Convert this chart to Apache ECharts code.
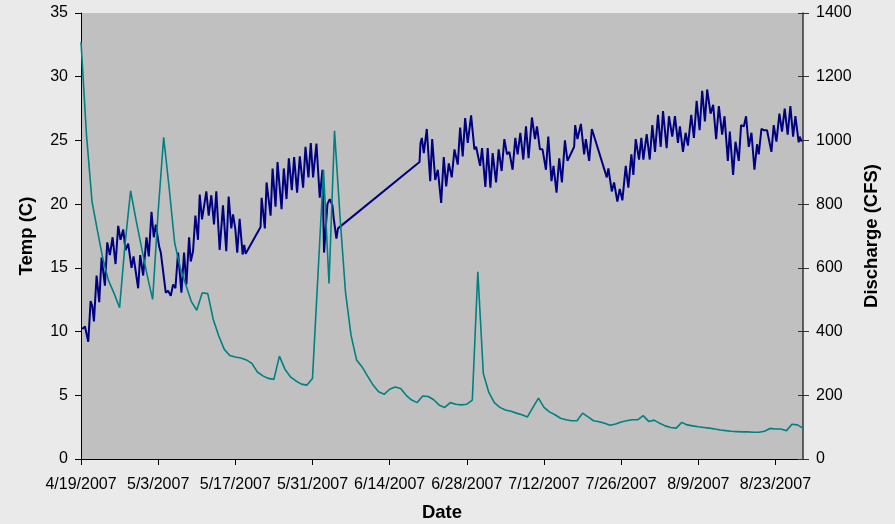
<!DOCTYPE html>
<html>
<head>
<meta charset="utf-8">
<script src="https://cdn.jsdelivr.net/npm/echarts@6/dist/echarts.min.js"></script>
<style>
html,body{margin:0;padding:0;background:#eaeaea;}
#chart{width:895px;height:524px;}
</style>
</head>
<body>
<div id="chart"></div>
<script>
// Dates are days after 4/19/2007
var startDate = Date.UTC(2007, 3, 19);
var xTickDays = [0, 14, 28, 42, 56, 70, 84, 98, 112, 126];

// Water temperature (C) (daily highs and lows)
var tempDay = [0.24,0.72,1.32,1.74,2.05,2.35,2.83,3.31,3.73,4.34,4.76,5.24,5.73,6.27,6.75,7.17,7.66,8.08,8.56,9.17,9.53,10.37,10.74,11.28,11.88,12.30,12.79,13.21,13.57,14.17,14.48,15.38,15.80,16.29,16.71,17.13,17.61,18.22,18.70,19.12,19.61,19.91,20.33,20.75,21.23,21.54,21.96,22.74,23.17,23.65,24.13,24.55,25.16,25.76,26.36,26.79,27.27,27.58,27.99,28.35,28.78,29.33,29.62,29.87,
32.58,32.77,33.36,33.67,34.40,34.76,35.30,35.66,36.39,36.80,37.29,37.71,38.25,38.67,39.21,39.70,40.30,40.73,41.27,41.69,42.11,42.72,43.32,43.81,44.10,44.71,45.13,45.62,45.85,46.34,46.63,
61.42,61.60,61.84,62.20,62.74,63.36,63.72,64.27,64.74,65.35,65.82,66.26,66.73,67.27,67.76,68.36,68.79,69.26,69.70,70.17,70.78,71.38,71.69,71.98,72.41,72.77,73.37,73.79,74.28,74.69,75.31,75.78,76.32,76.81,77.30,77.72,78.31,78.80,79.22,79.71,80.25,80.74,81.21,81.82,82.37,82.73,83.27,83.74,84.36,84.78,85.37,85.73,86.28,86.77,87.26,87.80,88.27,89.48,89.66,90.08,90.70,91.29,91.60,92.20,92.69,95.40,95.69,
96.31,96.72,97.32,97.75,98.23,98.84,99.31,99.86,100.22,100.65,101.25,101.67,102.03,102.64,103.19,103.66,104.15,104.69,105.18,105.60,106.26,106.68,107.28,107.77,108.31,108.67,109.22,109.70,110.12,110.72,111.21,111.70,112.24,112.71,113.20,113.61,114.23,114.70,115.24,115.73,116.33,116.76,117.36,117.72,118.32,118.75,119.35,119.77,120.26,120.67,121.16,121.65,122.19,122.66,122.97,123.46,123.88,124.47,125.27,125.69,126.18,126.72,127.19,127.68,128.22,128.71,129.20,129.62,130.22,130.40,130.76];
var tempC = [10.2,10.4,9.2,12.4,12.0,10.8,14.4,12.3,15.8,13.6,17.0,16.0,17.4,15.3,18.3,17.2,18.0,16.4,16.9,15.0,15.9,13.4,16.0,14.4,17.4,15.9,19.4,17.4,18.4,16.7,16.2,13.05,13.2,12.8,13.7,13.4,16.2,13.05,16.2,13.7,17.4,15.5,16.3,19.1,17.2,20.75,18.8,21.0,19.1,20.7,18.4,21.0,16.4,19.9,16.3,20.6,18.1,19.2,18.1,16.2,18.85,16.05,16.8,16.1,
18.2,20.5,18.1,21.7,19.1,22.8,19.8,23.3,19.6,22.8,20.4,23.6,21.1,23.7,20.9,23.75,21.3,24.5,22.1,24.8,22.1,24.75,20.5,22.7,16.2,20.0,20.4,19.9,18.9,17.3,18.1,
23.3,24.8,25.2,24.0,25.9,21.8,25.1,21.9,22.7,20.1,23.7,21.4,23.2,22.1,24.3,23.1,26.0,23.75,26.75,24.8,26.96,24.3,24.5,23.9,23.0,24.4,21.35,24.4,21.3,24.0,21.7,24.3,22.6,25.1,23.9,24.1,22.7,25.2,23.9,25.6,23.5,26.1,23.6,26.8,25.1,26.1,24.3,24.3,22.7,25.3,21.8,23.0,20.9,23.6,21.7,25.0,23.4,24.5,26.2,25.1,26.3,23.9,25.1,23.4,25.9,22.1,22.8,
21.0,21.7,20.2,21.2,20.3,23.0,21.3,23.9,22.3,25.1,23.5,25.2,23.5,25.5,23.5,26.2,24.1,27.0,24.5,27.3,24.4,26.9,25.3,26.9,24.8,26.1,24.1,25.6,24.6,27.0,25.2,28.1,25.8,28.9,26.5,29.0,27.1,27.8,25.1,27.7,25.45,26.9,23.4,25.7,22.3,24.9,23.4,26.2,26.1,26.9,24.5,25.6,22.7,24.7,23.9,25.9,25.8,25.8,24.1,26.2,24.9,27.1,25.7,27.5,25.45,27.7,25.3,26.9,24.85,25.3,24.9];

// Daily discharge (CFS), one value per day from 4/19/2007
var dischargeCFS = [1309,1017,808,715,626,560,520,475,676,842,
749,663,577,501,777,1010,850,678,601,548,
495,467,522,519,438,386,344,325,320,317,
311,300,273,261,253,250,323,282,258,245,
235,232,253,580,908,551,1030,760,522,388,
311,289,260,232,211,203,219,226,221,200,
185,177,198,196,186,169,162,177,172,170,
172,185,588,268,209,177,162,154,150,144,
139,132,162,191,162,148,139,128,123,120,
120,144,132,120,117,112,106,110,116,120,
123,123,136,118,122,112,104,99,97,115,
107,104,101,99,97,94,91,89,87,86,
85,85,84,84,87,96,94,94,89,109,
107,97];

var tempTicks = [0,5,10,15,20,25,30,35];
var dischargeTicks = [0,200,400,600,800,1000,1200,1400];

function dayLabel(v) {
  var d = new Date(startDate + v * 86400000);
  return (d.getUTCMonth() + 1) + '/' + d.getUTCDate() + '/' + d.getUTCFullYear();
}
function plainNum(v) { return String(v); }

var tempData = tempDay.map(function (d, i) { return [d, tempC[i]]; });
var dischargeData = dischargeCFS.map(function (q, i) { return [i, q]; });

var font = "'Liberation Sans', Arial, sans-serif";
var chart = echarts.init(document.getElementById('chart'), null, {renderer: 'canvas'});
chart.setOption({
  backgroundColor: '#eaeaea',
  animation: false,
  grid: {left: 81, right: 92, top: 13, bottom: 65, show: true, backgroundColor: '#c0c0c0', borderWidth: 0,
         containLabel: false, outerBoundsMode: 'none'},
  xAxis: {
    type: 'value', min: xTickDays[0], max: 131, interval: 14,
    name: 'Date', nameLocation: 'middle', nameGap: 44,
    nameTextStyle: {fontFamily: font, fontSize: 18.5, fontWeight: 'bold', color: '#000'},
    axisLine: {show: true, lineStyle: {color: '#000', width: 1}},
    axisTick: {show: true, inside: false, length: 6, lineStyle: {color: '#000'}},
    axisLabel: {fontFamily: font, fontSize: 16, color: '#000', margin: 18, showMaxLabel: false, formatter: dayLabel},
    splitLine: {show: false}
  },
  yAxis: [{
    type: 'value', min: tempTicks[0], max: tempTicks[tempTicks.length - 1], interval: 5,
    position: 'left',
    name: 'Temp (C)', nameLocation: 'middle', nameGap: 45, nameRotate: 90,
    nameTextStyle: {fontFamily: font, fontSize: 18.5, fontWeight: 'bold', color: '#000'},
    axisLine: {show: true, lineStyle: {color: '#000', width: 1}},
    axisTick: {show: true, inside: false, length: 6, lineStyle: {color: '#000'}},
    axisLabel: {fontFamily: font, fontSize: 16, color: '#000', margin: 13},
    splitLine: {show: false}
  }, {
    type: 'value', min: dischargeTicks[0], max: dischargeTicks[dischargeTicks.length - 1], interval: 200,
    position: 'right',
    name: 'Discharge (CFS)', nameLocation: 'middle', nameGap: 51, nameRotate: 90,
    nameTextStyle: {fontFamily: font, fontSize: 18.5, fontWeight: 'bold', color: '#000'},
    axisLine: {show: true, lineStyle: {color: '#333', width: 1.5}},
    axisTick: {show: true, inside: false, length: 6, lineStyle: {color: '#333'}},
    axisLabel: {fontFamily: font, fontSize: 16, color: '#000', margin: 13, formatter: plainNum},
    splitLine: {show: false}
  }, {
    type: 'value', min: dischargeTicks[0], max: dischargeTicks[dischargeTicks.length - 1], interval: 200,
    position: 'right',
    axisLine: {show: false},
    axisTick: {show: true, inside: true, length: 5, lineStyle: {color: '#333'}},
    axisLabel: {show: false},
    splitLine: {show: false}
  }],
  series: [{
    name: 'Temp', type: 'line', yAxisIndex: 0, data: tempData,
    showSymbol: false, symbol: 'none',
    lineStyle: {color: '#000080', width: 2}
  }, {
    name: 'Discharge', type: 'line', yAxisIndex: 1, data: dischargeData,
    showSymbol: false, symbol: 'none',
    lineStyle: {color: '#008080', width: 1.6}
  }]
});
</script>
</body>
</html>
